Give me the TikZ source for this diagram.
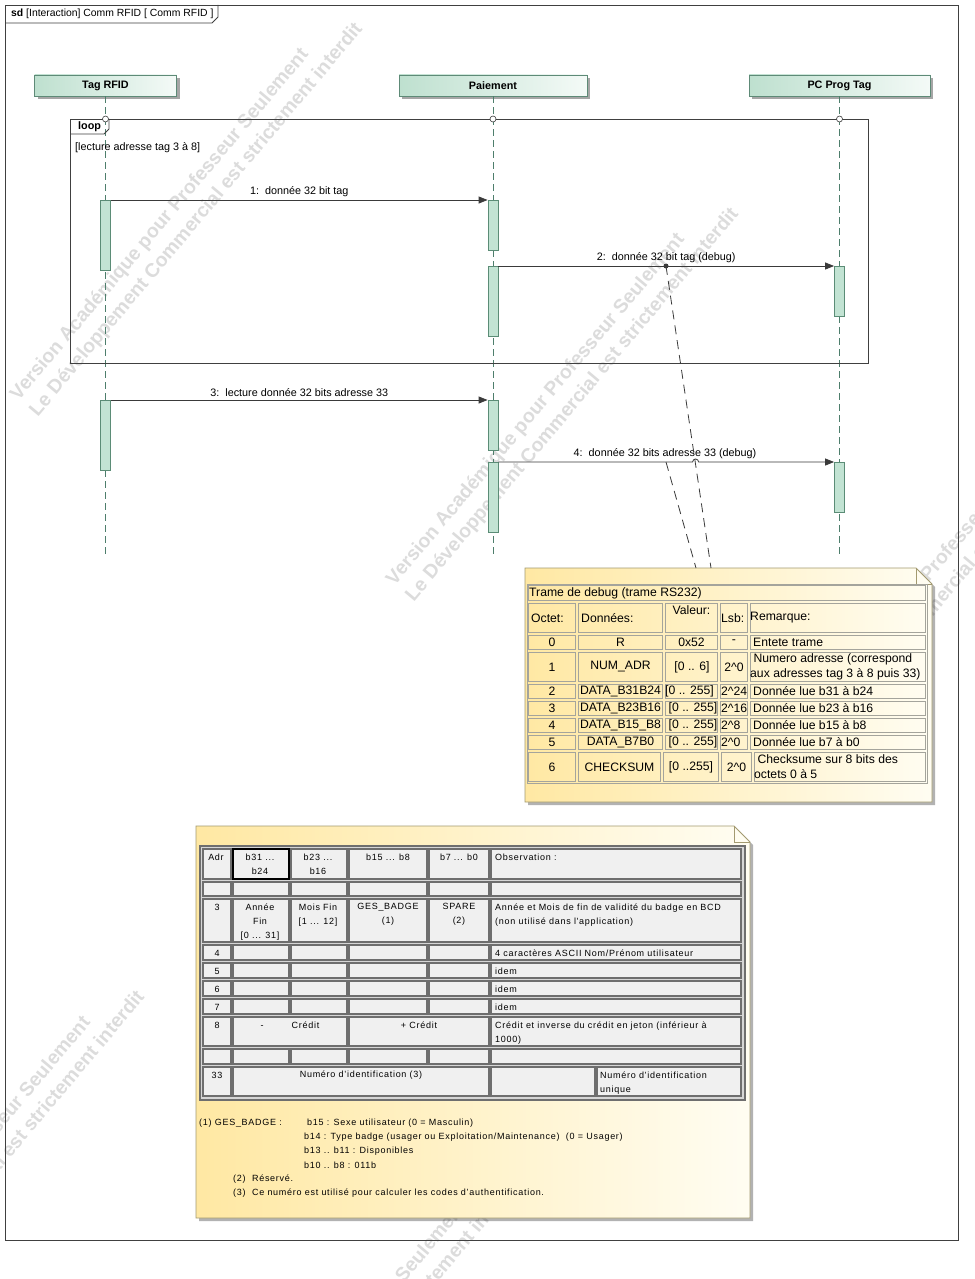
\documentclass[tikz,border=0pt]{standalone}
\usepackage{fontspec}
\setmainfont{Liberation Sans}
\newfontfamily\tblfont{Liberation Sans}[LetterSpace=8]
\usetikzlibrary{arrows.meta,shadows}
\definecolor{headL}{HTML}{BEE0CF}
\definecolor{headR}{HTML}{F4FAF7}
\definecolor{headD}{HTML}{5E8A77}
\definecolor{actF}{HTML}{C2E3D3}
\definecolor{actD}{HTML}{5B8C76}
\definecolor{lifeC}{HTML}{4E7E6C}
\definecolor{msgC}{HTML}{3A3A3A}
\definecolor{frameC}{HTML}{404040}
\definecolor{noteL}{HTML}{FFE8A3}
\definecolor{noteR}{HTML}{FFFDF2}
\definecolor{noteD}{HTML}{A39A70}
\definecolor{cellAC}{HTML}{A4A49C}
\definecolor{cellBD}{HTML}{6E6E6E}
\definecolor{cellBF}{HTML}{F0F0F0}
\definecolor{tblBG}{HTML}{D6D6D6}
\definecolor{wmC}{HTML}{DCDCDC}
\newcommand\fmsg{\fontsize{10.8}{13}\selectfont}
\newcommand\fsd{\fontsize{10.4}{13}\selectfont}
\newcommand\fnote{\fontsize{12.2}{15}\selectfont}
\newcommand\ftbl{\tblfont\fontsize{9}{14}\selectfont}
\newcommand\fwm{\bfseries\fontsize{19.5}{25}\selectfont}
\tikzset{
  frm/.style={draw=frameC, line width=0.9pt},
  head/.style={draw=headD, line width=0.9pt, left color=headL, right color=headR, minimum height=21pt, inner sep=0pt, font=\bfseries\fmsg, drop shadow={shadow xshift=3pt, shadow yshift=-3pt, fill=black, opacity=0.35}},
  life/.style={draw=lifeC, line width=0.8pt, dash pattern=on 7pt off 4pt},
  actbar/.style={draw=actD, fill=actF, line width=0.8pt, minimum width=10pt, inner sep=0pt, anchor=north},
  msg/.style={draw=msgC, line width=0.8pt, -{Triangle[length=9pt,width=7pt]}},
  mlab/.style={font=\fmsg, above=1.5pt, inner sep=1pt},
  nlink/.style={draw=msgC, line width=0.8pt, dash pattern=on 9pt off 6pt},
  notebody/.style={draw=noteD, line width=0.8pt, left color=noteL, right color=noteR},
  nshadow/.style={fill=black, opacity=0.3},
  cella/.style={draw=cellAC, line width=0.8pt},
  cellb/.style={draw=cellBD, fill=cellBF, line width=1.2pt},
  tone/.style={font=\fnote, inner sep=0pt},
  ttwo/.style={font=\ftbl, inner sep=0pt},
  wm/.style={font=\fwm, text=wmC, rotate=50, align=left, inner sep=0pt},
  lcirc/.style={circle, draw=msgC, fill=white, line width=0.6pt, minimum size=6pt, inner sep=0pt},
}
\begin{document}
\begin{tikzpicture}[x=1pt,y=-1pt]
\useasboundingbox (0,0) rectangle (974,1279);
\fill[white] (0,0) rectangle (974,1279);
% watermarks
\begin{scope}
\clip (0,0) rectangle (974,1279);
\node[wm] (wm1) at (187,212) {Version Académique pour Professeur Seulement\\Le Développement Commercial est strictement interdit};
\node[wm] (wm2) at (563,397) {Version Académique pour Professeur Seulement\\Le Développement Commercial est strictement interdit};
\node[wm] (wm3) at (939,582) {Version Académique pour Professeur Seulement\\Le Développement Commercial est strictement interdit};
\node[wm] (wm4) at (-31,1180) {Version Académique pour Professeur Seulement\\Le Développement Commercial est strictement interdit};
\node[wm] (wm5) at (345,1365) {Version Académique pour Professeur Seulement\\Le Développement Commercial est strictement interdit};
\end{scope}
% frame
\draw[frm] (5,5) rectangle (958,1240);
\draw[frm] (5,23) -- (212,23) -- (218,17) -- (218,5);
\node[font=\fsd, anchor=west, inner sep=0pt] (sdlabel) at (11,14) {\textbf{sd} [Interaction] Comm RFID [ Comm RFID ]};
% lifeline heads
\node[head, minimum width=142pt] (tag) at (105.5,85.5) {Tag RFID};
\node[head, minimum width=188pt] (pay) at (493,85.5) {Paiement};
\node[head, minimum width=181pt] (pc) at (839.5,85.5) {PC Prog Tag};
\coordinate (tagend) at (105.5,556);
\coordinate (payend) at (493,556);
\coordinate (pcend) at (839.5,556);
\draw[life] (tag.south) -- (tagend);
\draw[life] (pay.south) -- (payend);
\draw[life] (pc.south) -- (pcend);
% loop
\draw[frm, line width=0.8pt] (70,119) rectangle (868,363);
\draw[frm, line width=0.8pt] (70,134) -- (104,134) -- (109,129) -- (109,119);
\node[font=\bfseries\fmsg, anchor=west, inner sep=0pt] (looplbl) at (78,127) {loop};
\node[font=\fmsg, anchor=west, inner sep=0pt] (guard) at (75,148) {[lecture adresse tag 3 à 8]};
\node[lcirc] (lc1) at (105.5,119) {};
\node[lcirc] (lc2) at (493,119) {};
\node[lcirc] (lc3) at (839.5,119) {};
% activation bars
\node[actbar, minimum height=70pt] (a1) at (105.5,200) {};
\node[actbar, minimum height=50pt] (p1) at (493,200) {};
\node[actbar, minimum height=70pt] (p2) at (493,266) {};
\node[actbar, minimum height=50pt] (c1) at (839.5,266) {};
\node[actbar, minimum height=70pt] (a2) at (105.5,400) {};
\node[actbar, minimum height=50pt] (p3) at (493,400) {};
\node[actbar, minimum height=70pt] (p4) at (493,462) {};
\node[actbar, minimum height=50pt] (c2) at (839.5,462) {};
% messages
\draw[msg] (a1.north east) -- node[mlab] (m1) {1:\ \ donnée 32 bit tag} (p1.north west);
\draw[msg] (p2.north east) -- node[mlab] (m2) {2:\ \ donnée 32 bit tag (debug)} (c1.north west);
\draw[msg] (a2.north east) -- node[mlab] (m3) {3:\ \ lecture donnée 32 bits adresse 33} (p3.north west);
\coordinate (hop) at (695.6,462);
\draw[msg] (p4.north east) -- ([xshift=-3pt]hop) arc[start angle=180, end angle=0, radius=3pt] -- (c2.north west);
\node[font=\fmsg, anchor=south, inner sep=1pt] (m4) at (665,459.5) {4:\ \ donnée 32 bits adresse 33 (debug)};
% note 1
\fill[nshadow] (528,571) -- (919,571) -- (935,587) -- (935,805) -- (528,805) -- cycle;
\path[notebody] (525,568) -- (916,568) -- (932,584) -- (932,802) -- (525,802) -- cycle;
\draw[draw=noteD, line width=0.8pt] (916,568) -- (916,584) -- (932,584);
\coordinate (d2) at (666,266);
\coordinate (d4) at (666,462);
\coordinate (n1r) at (711,568);
\coordinate (n1l) at (696,568);
\fill[msgC] (d2) circle[radius=2.5pt];
\draw[nlink] (d2) -- (n1r);
\draw[nlink] (d4) -- (n1l);
% note 1 table
\draw[cella] (527,584) rectangle (927,783);
\draw[cella] (528.5,585.5) rectangle (925.5,600.5);
\foreach \ya/\yb in {602/634, 634/651, 651/683, 683/700, 700/717, 717/734, 734/751}{
  \foreach \xa/\xb in {527/577, 577/664, 664/719, 719/749, 749/927}{
    \draw[cella] (\xa+1.5,\ya+1.5) rectangle (\xb-1.5,\yb-1.5);
  }
}
\foreach \xa/\xb in {527/577, 577/662, 662/720, 720/753, 753/927}{
  \draw[cella] (\xa+1.5,752.5) rectangle (\xb-1.5,781.5);
}
\node[tone, anchor=west] (ttitle) at (529,593) {Trame de debug (trame RS232)};
\node[tone, anchor=west] (th0) at (531,618) {Octet:};
\node[tone, anchor=west] (th1) at (581,618) {Données:};
\node[tone] (th2) at (691.5,610) {Valeur:};
\node[tone, anchor=west] (th3) at (721,618) {Lsb:};
\node[tone, anchor=west] (th4) at (750,618) {Remarque:};
\node[tone] (r0a) at (552,642) {0};
\node[tone] (r0b) at (620.5,642) {R};
\node[tone] (r0c) at (691.5,642) {0x52};
\node[tone] (r0d) at (734,642) {-};
\node[tone, anchor=west] (r0e) at (753,642) {Entete trame};
\node[tone] (r1a) at (552,667) {1};
\node[tone] (r1b) at (620.5,667) {NUM\_ADR};
\node[tone] (r1c) at (692,667) {[0 .. 6]};
\node[tone] (r1d) at (734,667) {2\textasciicircum0};
\node[tone, anchor=west, align=left] (r1e) at (750,667) {\ Numero adresse (correspond\\aux adresses tag 3 à 8 puis 33)};
\node[tone] (r2a) at (552,691.5) {2};
\node[tone] (r2b) at (620.5,691.5) {DATA\_B31B24};
\node[tone, anchor=west] (r2c) at (665,691.5) {[0 .. 255]};
\node[tone, anchor=west] (r2d) at (721,691.5) {2\textasciicircum24};
\node[tone, anchor=west] (r2e) at (753,691.5) {Donnée lue b31 à b24};
\node[tone] (r3a) at (552,708.5) {3};
\node[tone] (r3b) at (620.5,708.5) {DATA\_B23B16};
\node[tone] (r3c) at (693,708.5) {[0 .. 255]};
\node[tone, anchor=west] (r3d) at (721,708.5) {2\textasciicircum16};
\node[tone, anchor=west] (r3e) at (753,708.5) {Donnée lue b23 à b16};
\node[tone] (r4a) at (552,725.5) {4};
\node[tone] (r4b) at (620.5,725.5) {DATA\_B15\_B8};
\node[tone] (r4c) at (693,725.5) {[0 .. 255]};
\node[tone, anchor=west] (r4d) at (721,725.5) {2\textasciicircum8};
\node[tone, anchor=west] (r4e) at (753,725.5) {Donnée lue b15 à b8};
\node[tone] (r5a) at (552,742.5) {5};
\node[tone] (r5b) at (620.5,742.5) {DATA\_B7B0};
\node[tone] (r5c) at (693,742.5) {[0 .. 255]};
\node[tone, anchor=west] (r5d) at (721,742.5) {2\textasciicircum0};
\node[tone, anchor=west] (r5e) at (753,742.5) {Donnée lue b7 à b0};
\node[tone] (r6a) at (552,767) {6};
\node[tone] (r6b) at (619.5,767) {CHECKSUM};
\node[tone] (r6c) at (691,767) {[0 ..255]};
\node[tone] (r6d) at (736.5,767) {2\textasciicircum0};
\node[tone, anchor=west, align=left] (r6e) at (754,767) {\ Checksume sur 8 bits des\\octets 0 à 5};
% note 2
\fill[nshadow] (199,829) -- (737,829) -- (753,845) -- (753,1221) -- (199,1221) -- cycle;
\path[notebody] (196,826) -- (734,826) -- (750,842) -- (750,1218) -- (196,1218) -- cycle;
\draw[draw=noteD, line width=0.8pt] (734,826) -- (734,842) -- (750,842);
\draw[draw=cellBD, fill=tblBG, line width=2pt] (200,846) rectangle (745,1100);
\foreach \ya/\yb in {849/879, 882/896, 899/942, 945/960, 963/978, 981/996, 999/1014, 1049/1064}{
  \foreach \xa/\xb in {203/231, 233/289, 291/347, 349/427, 429/489, 491/741}{
    \draw[cellb] (\xa,\ya) rectangle (\xb,\yb);
  }
}
\foreach \xa/\xb in {203/231, 233/347, 349/489, 491/741}{
  \draw[cellb] (\xa,1017) rectangle (\xb,1046);
}
\foreach \xa/\xb in {203/231, 233/489, 491/595, 597/741}{
  \draw[cellb] (\xa,1067) rectangle (\xb,1096);
}
\draw[black, line width=2.4pt] (233,849) rectangle (289,879);
\node[ttwo] (s0a) at (216,857) {Adr};
\node[ttwo, anchor=north, align=center] (s0b) at (260,853.5) {b31 ...\\b24};
\node[ttwo, anchor=north, align=center] (s0c) at (318,853.5) {b23 ...\\b16};
\node[ttwo] (s0d) at (388,857) {b15 ... b8};
\node[ttwo] (s0e) at (459,857) {b7 ... b0};
\node[ttwo, anchor=west] (s0f) at (495,857) {Observation :};
\node[ttwo] (s2a) at (217,907) {3};
\node[ttwo, anchor=north, align=center] (s2b) at (260,903.5) {Année\\Fin\\{}[0 ... 31]};
\node[ttwo, anchor=north, align=center] (s2c) at (318,903.5) {Mois Fin\\{}[1 ... 12]};
\node[ttwo, anchor=north, align=center] (s2d) at (388,903.5) {GES\_BADGE\\(1)};
\node[ttwo, anchor=north, align=center] (s2e) at (459,903.5) {SPARE\\(2)};
\node[ttwo, anchor=north west, align=left] (s2f) at (495,903.5) {Année et Mois de fin de validité du badge en BCD\\(non utilisé dans l'application)};
\node[ttwo] (s3a) at (217,953) {4};
\node[ttwo, anchor=west] (s3f) at (495,953) {4 caractères ASCII Nom/Prénom utilisateur};
\node[ttwo] (s4a) at (217,971) {5};
\node[ttwo, anchor=west] (s4f) at (495,971) {idem};
\node[ttwo] (s5a) at (217,989) {6};
\node[ttwo, anchor=west] (s5f) at (495,989) {idem};
\node[ttwo] (s6a) at (217,1007) {7};
\node[ttwo, anchor=west] (s6f) at (495,1007) {idem};
\node[ttwo] (s7a) at (217,1025) {8};
\node[ttwo] (s7b) at (290,1025) {-\hspace{28pt}Crédit};
\node[ttwo] (s7c) at (419,1025) {+ Crédit};
\node[ttwo, anchor=north west, align=left] (s7f) at (495,1021.5) {Crédit et inverse du crédit en jeton (inférieur à\\1000)};
\node[ttwo] (s9a) at (217,1075) {33};
\node[ttwo] (s9b) at (361,1075) {Numéro d’identification (3)};
\node[ttwo, anchor=north west, align=left] (s9f) at (600,1071.5) {Numéro d’identification\\unique};
\node[ttwo, anchor=west] (f1) at (199,1123) {(1) GES\_BADGE :};
\node[ttwo, anchor=west] (f1a) at (307,1123) {b15 : Sexe utilisateur (0 = Masculin)};
\node[ttwo, anchor=west] (f1b) at (304,1137) {b14 : Type badge (usager ou Exploitation/Maintenance)\ \ (0 = Usager)};
\node[ttwo, anchor=west] (f1c) at (304,1151) {b13 .. b11 : Disponibles};
\node[ttwo, anchor=west] (f1d) at (304,1165) {b10 .. b8 : 011b};
\node[ttwo, anchor=west] (f2) at (233,1179) {(2)\ \ Réservé.};
\node[ttwo, anchor=west] (f3) at (233,1193) {(3)\ \ Ce numéro est utilisé pour calculer les codes d’authentification.};
\end{tikzpicture}
\end{document}
